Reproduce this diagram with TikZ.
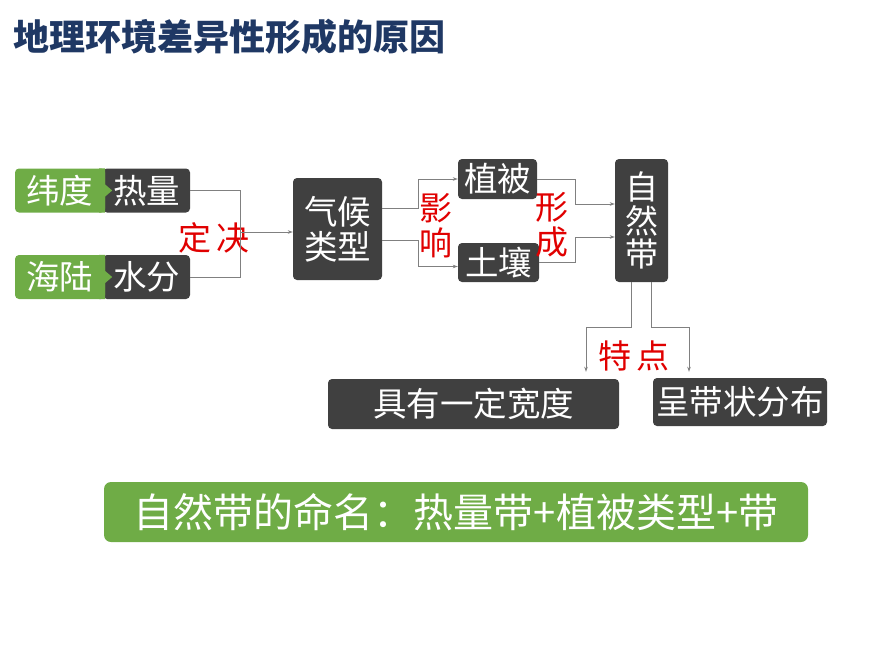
\documentclass[tikz,border=0pt]{standalone}
\usepackage{fontspec}
\setmainfont{Noto Sans CJK SC}
\usepackage{xcolor}
\usepackage{tikz}
\usetikzlibrary{arrows.meta}
\definecolor{boxgray}{HTML}{404040}
\definecolor{leaf}{HTML}{6FAC46}
\definecolor{labelred}{HTML}{E00000}
\definecolor{titleblue}{HTML}{1F3864}
\definecolor{linegray}{HTML}{808080}
\newcommand{\boxfont}{\fontsize{33.5}{35}\selectfont}

\begin{document}
\begin{tikzpicture}[x=1pt, y=-1pt,
  darkbox/.style={fill=boxgray, rounded corners=4pt, text=white,
    inner sep=0pt, align=center, font=\boxfont},
  greenbox/.style={darkbox, fill=leaf},
  redlabel/.style={text=labelred, align=center, inner sep=0pt,
    font=\fontsize{33}{35}\selectfont},
  conn/.style={draw=linegray, line width=0.8pt},
  >={Stealth[length=5pt, width=3.5pt]}]

\useasboundingbox (0,0) rectangle (870,653);

% Title
\node[anchor=west, inner sep=0pt, text=titleblue,
  font=\fontsize{36}{40}\selectfont\bfseries] (Title) at (13,37)
  {地理环境差异性形成的原因};

% Factors
\foreach \i/\cause/\effect/\y in {1/纬度/热量/190.5, 2/海陆/水分/277}
{
  \node[darkbox, minimum width=87, minimum height=44] (Factor-\i)
    at (146.5,\y) {\effect};
  \node[greenbox, minimum width=90, minimum height=44] (Cause-\i)
    at (60,\y) {\cause};
  \fill[leaf] ([xshift=-6pt]Cause-\i.north east) -- (Cause-\i.north east)
    -- ([yshift=6pt]Cause-\i.east) -- ([xshift=7pt]Cause-\i.east)
    -- ([yshift=-6pt]Cause-\i.east) -- (Cause-\i.south east)
    -- ([xshift=-6pt]Cause-\i.south east) -- cycle;
}

% Main chain
\node[darkbox, minimum width=89, minimum height=102] (Climate)
  at (337.5,229) {气候\\类型};
\node[darkbox, minimum width=79, minimum height=40] (Plant)
  at (497.5,179) {植被};
\node[darkbox, minimum width=81, minimum height=39] (Soil)
  at (498.5,262.5) {土壤};
\node[darkbox, minimum width=53, minimum height=123,
  font=\fontsize{33}{33.5}\selectfont] (Zone)
  at (641.5,220.5) {自\\然\\带};

% Features
\node[darkbox, minimum width=291, minimum height=50] (Width)
  at (473.5,404) {具有一定宽度};
\node[darkbox, minimum width=174, minimum height=48] (Belt)
  at (740,402) {呈带状分布};

% Naming
\node[greenbox, rounded corners=7pt, minimum width=704, minimum height=60,
  font=\fontsize{40}{42}\selectfont] (Naming)
  at (456,512) {自然带的命名：热量带+植被类型+带};

% Labels
\node[redlabel] (Decide) at (214,238) {定\,决};
\node[redlabel] (Affect) at (436,226) {影\\响};
\node[redlabel] (Form) at (552,225) {形\\成};
\node[redlabel] (Trait) at (634,356) {特\,点};

% Connect factors to climate
\coordinate (Merge) at (240,232);
\foreach \i in {1,2}
{
  \draw[conn] (Factor-\i.east) -| (Merge);
}
\draw[conn, ->] (Merge) -- (Climate.west |- Merge);

% Climate to plant and soil
\draw[conn, ->] ([yshift=21pt]Climate.east) -- ++(36,0) |- (Plant.west);
\draw[conn, ->] ([yshift=-11pt]Climate.east) -- ++(36,0)
  |- ([yshift=-4pt]Soil.west);

% Plant and soil to zone
\draw[conn, ->] (Plant.east) -- ++(38,0) |- ([yshift=16.5pt]Zone.west);
\draw[conn, ->] (Soil.east) -- ++(36,0) |- ([yshift=-16.5pt]Zone.west);

% Zone to features
\draw[conn, ->, shorten >=7pt] ([xshift=-10pt]Zone.south) -- ++(0,45)
  -| ([xshift=112.5pt]Width.north);
\draw[conn, ->, shorten >=6pt] ([xshift=10pt]Zone.south) -- ++(0,45)
  -| ([xshift=-51pt]Belt.north);

\end{tikzpicture}
\end{document}
